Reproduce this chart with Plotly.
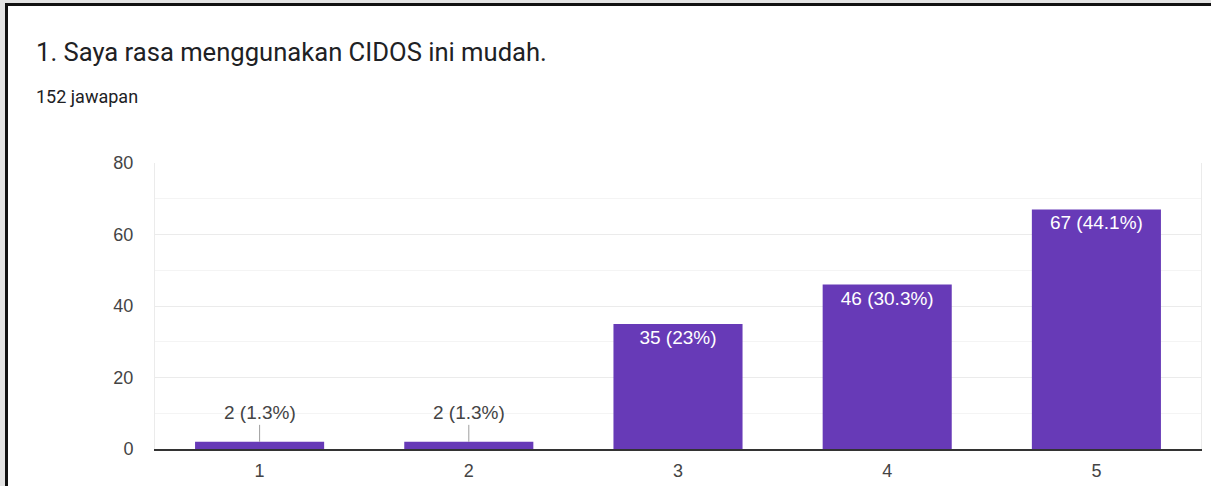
import plotly.graph_objects as go

categories = ["1", "2", "3", "4", "5"]
counts = [2, 2, 35, 46, 67]
percents = ["1.3%", "1.3%", "23%", "30.3%", "44.1%"]
y_ticks = [0, 20, 40, 60, 80]

title_text = "1. Saya rasa menggunakan CIDOS ini mudah."
subtitle_text = "152 jawapan"

W, H = 1211, 486
L, R, T, B = 155, 10, 163, 37
PW, PH = W - L - R, H - T - B

def px_x(p):
    return (p - L) / PW

def px_y(p):
    return (H - B - p) / PH

labels = [f"{c} ({p})" for c, p in zip(counts, percents)]
small = [c < 10 for c in counts]
bar_text = ["" if s else t for s, t in zip(small, labels)]

fig = go.Figure()
fig.add_trace(go.Bar(
    x=categories, y=counts,
    marker=dict(color="#673ab7", line=dict(width=0)),
    text=bar_text, textposition="inside", insidetextanchor="end",
    textfont=dict(family="Liberation Sans, Arial", size=19, color="white"),
    textangle=0,
    hoverinfo="skip",
))

annotations = []
for i, (c, s, t) in enumerate(zip(counts, small, labels)):
    if s:
        annotations.append(dict(
            x=i, y=c, xref="x", yref="y", text=t, showarrow=True,
            arrowhead=0, arrowwidth=1, arrowcolor="#9e9e9e", ax=0, ay=-29,
            font=dict(family="Liberation Sans, Arial", size=19, color="#444444"),
        ))

annotations.append(dict(
    x=px_x(34), y=px_y(52), xref="paper", yref="paper", xanchor="left", yanchor="middle",
    text=title_text, showarrow=False,
    font=dict(family="Roboto", size=25.6, color="#202124"),
))
annotations.append(dict(
    x=px_x(34), y=px_y(97), xref="paper", yref="paper", xanchor="left", yanchor="middle",
    text=subtitle_text, showarrow=False,
    font=dict(family="Roboto", size=18, color="#202124"),
))

shapes = [
    dict(type="rect", xref="paper", yref="paper", x0=px_x(0), x1=px_x(5), y0=px_y(H), y1=px_y(0),
         fillcolor="#e3e3e3", line=dict(width=0), layer="below"),
    dict(type="rect", xref="paper", yref="paper", x0=px_x(0), x1=px_x(W), y0=px_y(3), y1=px_y(0),
         fillcolor="#e3e3e3", line=dict(width=0), layer="below"),
    dict(type="rect", xref="paper", yref="paper", x0=px_x(5), x1=px_x(8), y0=px_y(H), y1=px_y(3),
         fillcolor="#111111", line=dict(width=0), layer="below"),
    dict(type="rect", xref="paper", yref="paper", x0=px_x(5), x1=px_x(W), y0=px_y(6), y1=px_y(3),
         fillcolor="#111111", line=dict(width=0), layer="below"),
]

fig.update_layout(
    width=W, height=H, autosize=False,
    margin=dict(l=L, r=R, t=T, b=B, pad=0, autoexpand=False),
    paper_bgcolor="white", plot_bgcolor="white",
    showlegend=False,
    bargap=0.383,
    annotations=annotations,
    shapes=shapes,
    font=dict(family="Liberation Sans, Arial", size=18, color="#444444"),
)
fig.update_yaxes(
    range=[0, 80], tickvals=y_ticks, showgrid=True, gridcolor="#ebebeb", gridwidth=1,
    minor=dict(dtick=10, showgrid=True, gridcolor="#f4f4f4", gridwidth=1),
    zeroline=False, showline=True, linecolor="#ebebeb", linewidth=1, mirror=True,
    ticks="", ticklabelstandoff=17,
    tickfont=dict(family="Liberation Sans, Arial", size=18, color="#444444"),
    fixedrange=True,
)
fig.update_xaxes(
    type="category",
    showgrid=False, showline=True, linecolor="#333333", linewidth=2,
    ticks="", ticklabelstandoff=4,
    tickfont=dict(family="Liberation Sans, Arial", size=18, color="#444444"),
    fixedrange=True,
)

fig.write_html(
    "out.html",
    config={"displayModeBar": False, "responsive": False},
    post_script=(
        "document.body.style.margin='0';document.body.style.overflow='hidden';"
        "var gd=document.getElementById('{plot_id}');"
        "Plotly.relayout(gd,{width:1211,height:486});"
    ),
)
